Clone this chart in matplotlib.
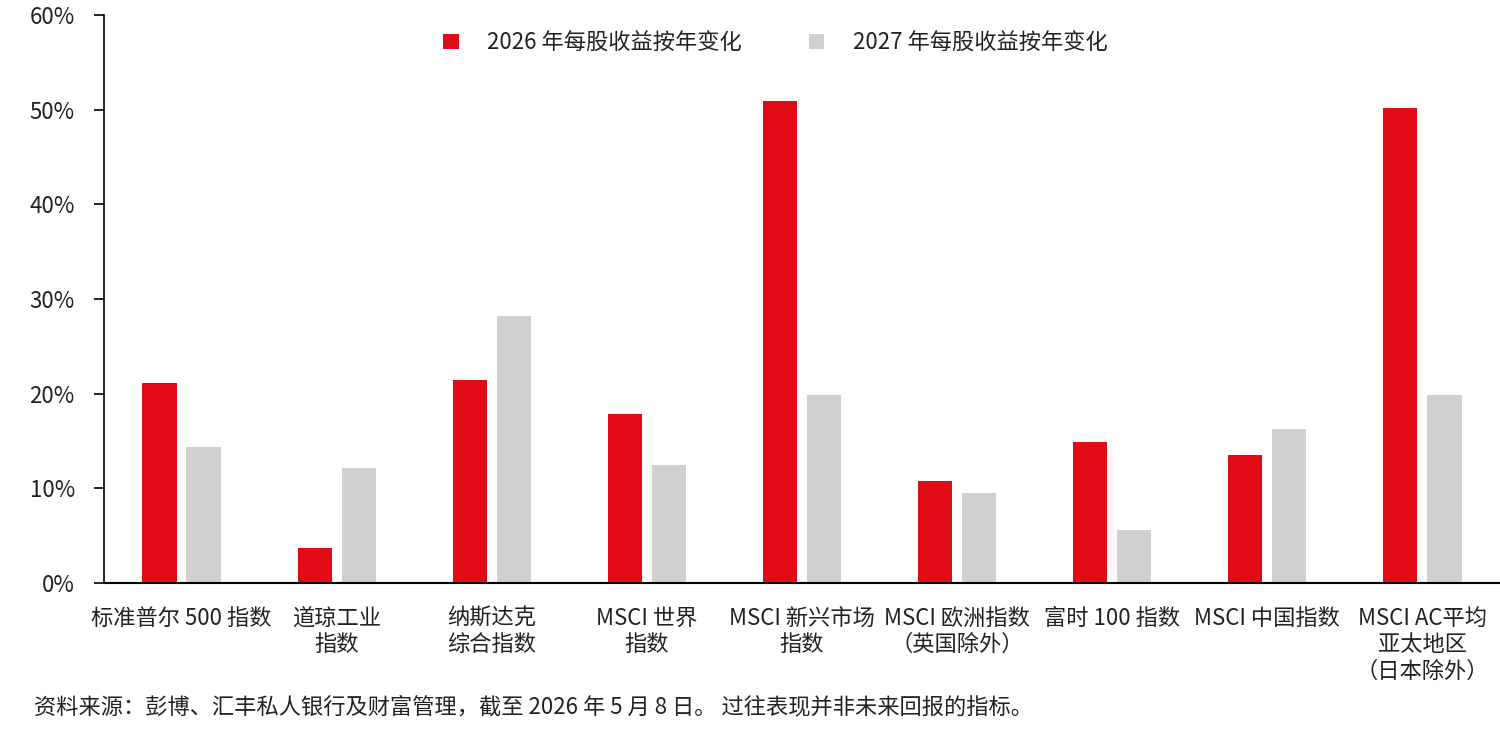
import matplotlib
matplotlib.use("Agg")
import matplotlib.pyplot as plt
import numpy as np
from matplotlib.ticker import FuncFormatter

plt.rcParams['font.family'] = ['Noto Sans CJK SC', 'DejaVu Sans']
plt.rcParams['font.weight'] = 'light'

categories = ["标准普尔 500 指数", "道琼工业\n指数", "纳斯达克\n综合指数", "MSCI 世界\n指数",
              "MSCI 新兴市场\n指数", "MSCI 欧洲指数\n（英国除外）", "富时 100 指数",
              "MSCI 中国指数", "MSCI AC平均\n亚太地区\n（日本除外）"]
eps_2026 = [21.1, 3.7, 21.4, 17.9, 50.9, 10.8, 14.9, 13.5, 50.2]
eps_2027 = [14.4, 12.1, 28.2, 12.5, 19.9, 9.5, 5.6, 16.3, 19.9]
series_names = ["2026 年每股收益按年变化", "2027 年每股收益按年变化"]
yticks = [0, 10, 20, 30, 40, 50, 60]
source = "资料来源：彭博、汇丰私人银行及财富管理，截至 2026 年 5 月 8 日。 过往表现并非未来回报的指标。"

red = '#E20A16'
grey = '#D0D0D0'
txt = '#222222'

fig = plt.figure(figsize=(15, 7.41), dpi=100)
ax = fig.add_axes([0.0693, 0.2132, 0.9307, 0.7666])

x = np.arange(len(categories))
w = 0.22
ax.bar(x - 0.142, eps_2026, w, color=red, label=series_names[0])
ax.bar(x + 0.142, eps_2027, w, color=grey, label=series_names[1])

ax.set_xlim(-0.5, len(categories) - 0.5)
ax.set_ylim(0, 60)
ax.set_yticks(yticks)
ax.yaxis.set_major_formatter(FuncFormatter(lambda v, p: f"{v:.0f}%"))
ax.set_xticks(x)
ax.set_xticklabels(categories, linespacing=1.2)

for s in ['top', 'right']:
    ax.spines[s].set_visible(False)
ax.spines['left'].set_linewidth(1.2)
ax.spines['bottom'].set_linewidth(1.5)
ax.tick_params(axis='y', length=7, width=1.2, pad=14, labelsize=16, labelcolor=txt)
ax.tick_params(axis='x', length=0, pad=17, labelsize=16, labelcolor=txt)

leg = fig.legend(loc='center', bbox_to_anchor=(0.517, 0.942), ncol=2, frameon=False,
                 fontsize=16, handlelength=0.7, handleheight=0.7, columnspacing=3.0,
                 handletextpad=1.3, labelcolor=txt)

fig.text(0.023, 0.046, source, fontsize=16, color=txt, va='center', ha='left')

fig.savefig("out.png", dpi=100)
